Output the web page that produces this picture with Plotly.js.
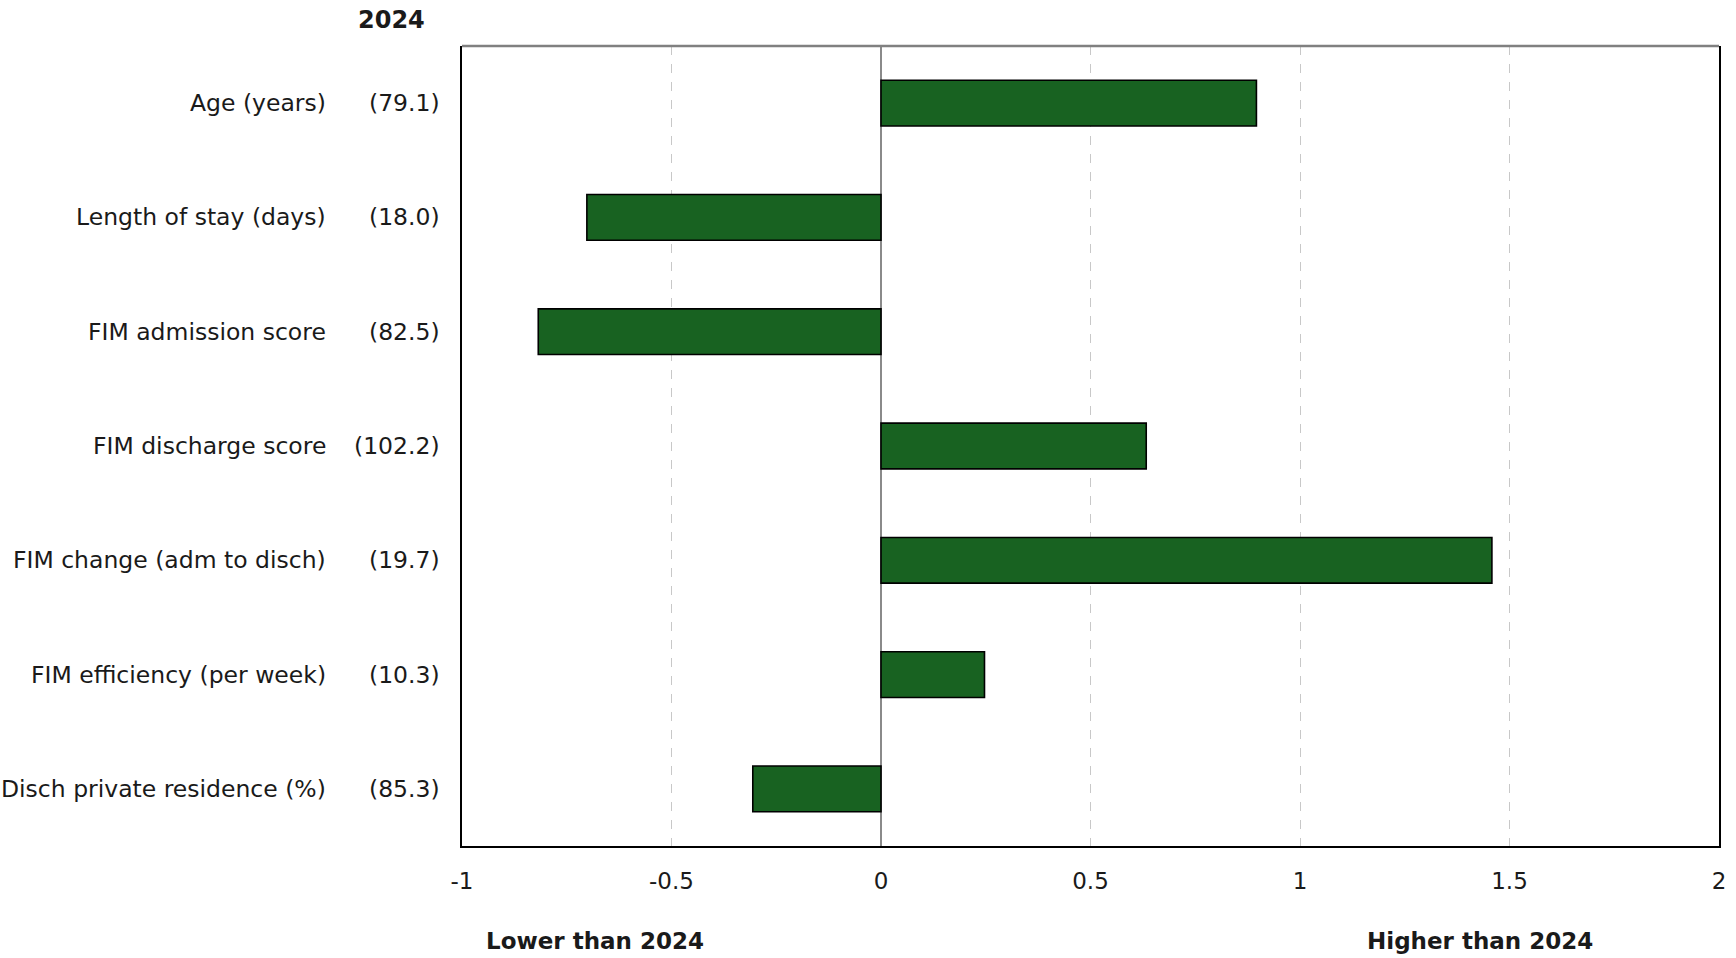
<!DOCTYPE html>
<html>
<head>
<meta charset="utf-8">
<script src="https://cdn.plot.ly/plotly-3.0.1.min.js"></script>
<style>html,body{margin:0;padding:0;background:#fff;}#chart{width:1736px;height:958px;}</style>
</head>
<body>
<div id="chart"></div>
<script>
const categories = ["Age (years)", "Length of stay (days)", "FIM admission score", "FIM discharge score", "FIM change (adm to disch)", "FIM efficiency (per week)", "Disch private residence (%)"];
const baseline2024 = ["(79.1)", "(18.0)", "(82.5)", "(102.2)", "(19.7)", "(10.3)", "(85.3)"];
const differences = [0.896, -0.702, -0.818, 0.633, 1.458, 0.247, -0.306];
const xTickVals = [-1, -0.5, 0, 0.5, 1, 1.5, 2];
const xTickText = ["-1", "-0.5", "0", "0.5", "1", "1.5", "2"];
const columnHeader = "2024";
const lowerLabel = "Lower than 2024";
const higherLabel = "Higher than 2024";

const FONT = "DejaVu Sans, Open Sans, sans-serif";
const TXT = "#1a1a1a";

const annotations = [];
categories.forEach((c, i) => {
  annotations.push({xref: 'paper', yref: 'y', x: -0.1067, y: c, text: c, showarrow: false,
    xanchor: 'right', yanchor: 'middle', font: {family: FONT, size: 23.5, color: TXT}});
  annotations.push({xref: 'paper', yref: 'y', x: -0.0159, y: c, text: baseline2024[i], showarrow: false,
    xanchor: 'right', yanchor: 'middle', font: {family: FONT, size: 23.5, color: TXT}});
});
annotations.push({xref: 'paper', yref: 'paper', x: -0.0557, y: 1.033, text: '<b>' + columnHeader + '</b>', showarrow: false,
  xanchor: 'center', yanchor: 'middle', font: {family: FONT, size: 24, color: TXT}});
annotations.push({xref: 'x', yref: 'paper', x: -0.683, y: -0.119, text: '<b>' + lowerLabel + '</b>', showarrow: false,
  xanchor: 'center', yanchor: 'middle', font: {family: FONT, size: 23, color: TXT}});
annotations.push({xref: 'x', yref: 'paper', x: 1.43, y: -0.119, text: '<b>' + higherLabel + '</b>', showarrow: false,
  xanchor: 'center', yanchor: 'middle', font: {family: FONT, size: 23, color: TXT}});

const trace = {
  type: 'bar', orientation: 'h', y: categories, x: differences,
  marker: {color: '#186221', line: {color: '#000', width: 1.6}},
  width: 0.4, hoverinfo: 'x+y'
};

const layout = {
  width: 1736, height: 958,
  margin: {l: 462, r: 17, t: 46, b: 112},
  paper_bgcolor: '#fff', plot_bgcolor: '#fff',
  showlegend: false,
  font: {family: FONT, color: TXT},
  xaxis: {
    range: [-1, 2], tickvals: xTickVals, ticktext: xTickText,
    showgrid: true, gridcolor: '#c8c8c8', griddash: 'dash', gridwidth: 1,
    zeroline: true, zerolinecolor: '#8a8a8a', zerolinewidth: 1.5,
    showline: true, linecolor: '#000', linewidth: 2, mirror: false,
    ticks: '', ticklabelstandoff: 13,
    tickfont: {family: FONT, size: 23, color: TXT}
  },
  yaxis: {
    categoryorder: 'array', categoryarray: categories, autorange: 'reversed',
    showticklabels: false, showgrid: false, zeroline: false,
    showline: true, linecolor: '#000', linewidth: 2, mirror: true, ticks: ''
  },
  shapes: [{type: 'line', xref: 'paper', yref: 'paper', x0: 0, x1: 1, y0: 1, y1: 1,
    line: {color: '#808080', width: 2.5}}],
  annotations: annotations
};

Plotly.newPlot('chart', [trace], layout, {displayModeBar: false, staticPlot: true});
</script>
</body>
</html>
